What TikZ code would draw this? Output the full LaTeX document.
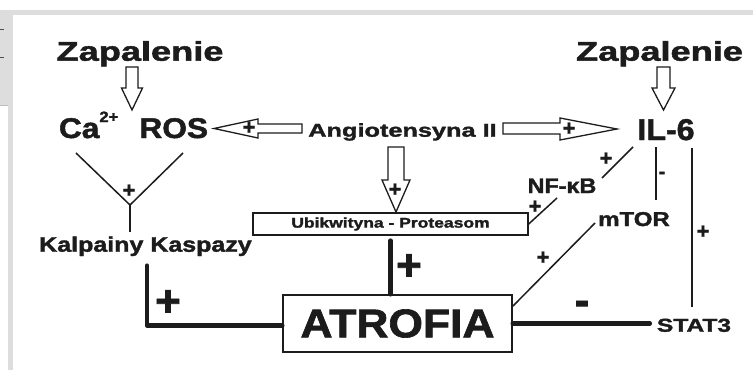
\documentclass[tikz,border=0pt]{standalone}
\usepackage{fontspec}
\setmainfont{Liberation Sans}[BoldFeatures={FakeBold=1.6}]
\usepackage{graphicx}
\definecolor{framegray}{RGB}{221,221,221}
\definecolor{ink}{RGB}{28,28,28}
\usetikzlibrary{positioning}

\begin{document}
\begin{tikzpicture}[x=1pt, y=-1pt,
  lbl/.style={inner sep=0pt, anchor=base, text=ink},
  thinline/.style={line width=1.5pt, ink},
  thickline/.style={line width=4.6pt, ink, line cap=round, line join=round},
  hollow/.style={line width=1.3pt, draw=ink, fill=white, line join=miter},
  sign/.style={inner sep=0pt, text=ink, font=\fontsize{22}{22}\bfseries\selectfont},
  bigsign/.style={inner sep=0pt, text=ink, font=\fontsize{44}{44}\bfseries\selectfont}]
  \useasboundingbox (0,0) rectangle (753,370);
  % frame of the page
  \fill[framegray] (0,10) rectangle (753,15);
  \fill[framegray] (0,10) rectangle (13,105);
  \fill[framegray] (8,10) rectangle (13,370);
  \draw[black!70, line width=1pt] (0,29.5) -- (4,29.5) (0,57) -- (4,57);
  \draw[black!25, line width=0.6pt] (0,105) -- (8,105);

  % labels
  \node[lbl, font=\fontsize{27}{27}\bfseries\selectfont] (zapL) at (140,60.7) {\scalebox{1.34}[1]{Zapalenie}};
  \node[lbl, font=\fontsize{27}{27}\bfseries\selectfont] (zapR) at (659.5,60.7) {\scalebox{1.34}[1]{Zapalenie}};
  \node[lbl, font=\fontsize{28.5}{28.5}\bfseries\selectfont] (caros) at (133.5,138) {\scalebox{1.11}[1]{Ca\raisebox{16pt}{\fontsize{15}{15}\selectfont 2+}\hspace{19pt}ROS}};
  \node[lbl, font=\fontsize{18.6}{18.6}\bfseries\selectfont] (ang) at (402.5,136.7) {\scalebox{1.36}[1]{Angiotensyna II}};
  \node[lbl, font=\fontsize{30}{30}\bfseries\selectfont] (il6) at (666,140) {\scalebox{1.07}[1]{IL-6}};
  \node[lbl, font=\fontsize{21}{21}\bfseries\selectfont] (nfkb) at (562,193) {\scalebox{1.11}[1]{NF-κB}};
  \node[lbl, font=\fontsize{20}{20}\bfseries\selectfont] (mtor) at (634,226) {\scalebox{1.2}[1]{mTOR}};
  \node[lbl, font=\fontsize{21}{21}\bfseries\selectfont] (kk) at (145.5,251.7) {\scalebox{1.19}[1]{Kalpainy Kaspazy}};
  \node[draw=ink, line width=1.4pt, fill=white, minimum width=275pt, minimum height=22pt, inner sep=0pt, text=ink, font=\fontsize{14}{14}\bfseries\selectfont] (ubi) at (390.5,224) {\scalebox{1.25}[1]{Ubikwityna - Proteasom}};
  \node[draw=ink, line width=1.6pt, minimum width=229pt, minimum height=57pt, inner sep=0pt, text=ink, font=\fontsize{40}{40}\bfseries\selectfont] (atrofia) at (397.5,323.5) {\scalebox{1.11}[1]{ATROFIA}};
  \node[lbl, font=\fontsize{18.6}{18.6}\bfseries\selectfont] (stat3) at (694,331.7) {\scalebox{1.32}[1]{STAT3}};

  % hollow arrows
  \draw[hollow] ([shift={(-14,6.3)}]zapL.base) -- ++(0,21) -- ++(-4.5,0) -- ++(10.5,22) -- ++(10.5,-22) -- ++(-4.5,0) -- ++(0,-21) -- cycle;
  \draw[hollow] ([shift={(-2.5,6.3)}]zapR.base) -- ++(0,21) -- ++(-5,0) -- ++(11.5,22) -- ++(11.5,-22) -- ++(-5,0) -- ++(0,-21) -- cycle;
  \draw[hollow] ([shift={(-14.5,10.3)}]ang.base) -- ++(0,33) -- ++(-6,0) -- ++(14,32) -- ++(14,-32) -- ++(-6,0) -- ++(0,-33) -- cycle;
  \draw[hollow] ([shift={(-100.5,-12.7)}]ang.base) -- ++(-44,0) -- ++(0,-5) -- ++(-44,9.5) -- ++(44,9.5) -- ++(0,-5) -- ++(44,0) -- cycle;
  \draw[hollow] ([shift={(100.5,-13.7)}]ang.base) -- ++(57,0) -- ++(0,-5) -- ++(57,11) -- ++(-57,11) -- ++(0,-6) -- ++(-57,0) -- cycle;
  \node[sign] (pAngUbi) at (395,190) {+};
  \node[sign] (pAngRos) at (249,128) {+};
  \node[sign] (pAngIl) at (569,129) {+};

  % thin links
  \coordinate (vtx) at (130,205);
  \draw[thinline] ([shift={(-57.5,15)}]caros.base) -- (vtx) -- ([shift={(49.5,15)}]caros.base);
  \draw[thinline] (vtx) -- ([shift={(-15.5,-20)}]kk.base);
  \node[sign] (pRos) at (129,191) {+};
  \draw[thinline] ([shift={(-33,7)}]il6.base) -- ([shift={(40,-15)}]nfkb.base);
  \node[sign] (pIlNf) at (606,159) {+};
  \draw[thinline] ([shift={(-5,5)}]nfkb.base) -- (ubi.east);
  \node[sign] (pNfUbi) at (535,207) {+};
  \draw[thinline] ([shift={(-10,7)}]il6.base) -- ([shift={(22,-26)}]mtor.base);
  \node[sign, font=\fontsize{20}{20}\bfseries\selectfont] (mIlMt) at (662,175) {-};
  \draw[thinline] ([shift={(26,8)}]il6.base) -- ([shift={(-2,-25)}]stat3.base);
  \node[sign] (pIlSt) at (703,232) {+};
  \draw[thinline] ([yshift=-12pt]atrofia.north east) -- ([shift={(-39,-3)}]mtor.base);
  \node[sign] (pMtAt) at (543,258) {+};

  % thick links
  \coordinate (s3in) at ([xshift=-7pt]stat3.west);
  \draw[thickline] ([shift={(1.5,14)}]kk.base) |- ([yshift=-2pt]atrofia.west);
  \node[bigsign] (pKkAt) at (168,303) {+};
  \draw[thickline] ([yshift=-5pt]ubi.south) -- (ubi.south |- atrofia.north);
  \node[bigsign] (pUbiAt) at (409,267) {+};
  \draw[thickline] (atrofia.east) -- (atrofia.east -| s3in);
  \node[bigsign] (mStAt) at (582,308) {-};
\end{tikzpicture}
\end{document}
